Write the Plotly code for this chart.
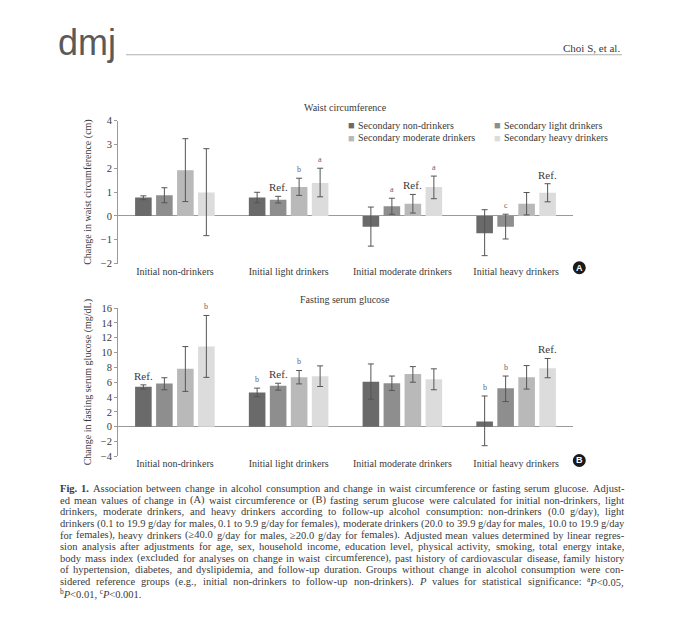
import re
import plotly.graph_objects as go

# page offset: the browser body adds an 8px margin around the figure
OFF = 8
W, H = 680 - OFF, 634 - OFF

categories = ["Initial non-drinkers", "Initial light drinkers",
              "Initial moderate drinkers", "Initial heavy drinkers"]
series_names = ["Secondary non-drinkers", "Secondary light drinkers",
                "Secondary moderate drinkers", "Secondary heavy drinkers"]
series_colors = ["#6a6a6a", "#8e8e8e", "#b9b9b9", "#dcdcdc"]

# (A) Waist circumference, cm
waist_non = [0.77, 0.77, -0.46, -0.73]
waist_light = [0.87, 0.68, 0.40, -0.46]
waist_moderate = [1.92, 1.21, 0.51, 0.51]
waist_heavy = [0.98, 1.38, 1.21, 0.97]
waist_upper_non = [0.84, 0.99, 0.37, 0.26]
waist_lower_non = [0.68, 0.55, -1.27, -1.67]
waist_upper_light = [1.18, 0.82, 0.74, 0.07]
waist_lower_light = [0.55, 0.54, 0.07, -0.97]
waist_upper_moderate = [3.24, 1.58, 0.90, 0.98]
waist_lower_moderate = [0.60, 0.86, 0.12, 0.04]
waist_upper_heavy = [2.82, 2.00, 1.67, 1.35]
waist_lower_heavy = [-0.83, 0.80, 0.72, 0.59]
waist_marks_non = ["", "", "", ""]
waist_marks_light = ["", "Ref.", "a", "c"]
waist_marks_moderate = ["", "b", "Ref.", ""]
waist_marks_heavy = ["", "a", "a", "Ref."]

# (B) Fasting serum glucose, mg/dL
glu_non = [5.37, 4.62, 6.05, 0.70]
glu_light = [5.82, 5.53, 5.86, 5.20]
glu_moderate = [7.80, 6.65, 7.10, 6.65]
glu_heavy = [10.80, 6.80, 6.40, 7.89]
glu_upper_non = [5.64, 5.20, 8.46, 4.14]
glu_lower_non = [5.07, 4.05, 3.70, -2.56]
glu_upper_light = [6.60, 5.86, 6.83, 6.83]
glu_lower_light = [4.98, 4.93, 4.89, 3.39]
glu_upper_moderate = [10.80, 7.58, 8.10, 8.24]
glu_lower_moderate = [4.76, 5.77, 6.00, 5.07]
glu_upper_heavy = [15.00, 8.20, 7.80, 9.20]
glu_lower_heavy = [6.65, 5.42, 4.98, 6.60]
glu_marks_non = ["Ref.", "b", "", "b"]
glu_marks_light = ["", "Ref.", "", "b"]
glu_marks_moderate = ["", "b", "", ""]
glu_marks_heavy = ["b", "", "", "Ref."]

waist_ticks = [-2, -1, 0, 1, 2, 3, 4]
glu_ticks = [-4, -2, 0, 2, 4, 6, 8, 10, 12, 14, 16]

caption_lines = [
    "<b>Fig.</b> <b>1.</b> Association between change in alcohol consumption and change in waist circumference or fasting serum glucose. Adjust-",
    "ed mean values of change in (A) waist circumference or (B) fasting serum glucose were calculated for initial non-drinkers, light",
    "drinkers, moderate drinkers, and heavy drinkers according to follow-up alcohol consumption: non-drinkers (0.0 g/day), light",
    "drinkers (0.1 to 19.9 g/day for males, 0.1 to 9.9 g/day for females), moderate drinkers (20.0 to 39.9 g/day for males, 10.0 to 19.9 g/day",
    "for females), heavy drinkers (\u226540.0 g/day for males, \u226520.0 g/day for females). Adjusted mean values determined by linear regres-",
    "sion analysis after adjustments for age, sex, household income, education level, physical activity, smoking, total energy intake,",
    "body mass index (excluded for analyses on change in waist circumference), past history of cardiovascular disease, family history",
    "of hypertension, diabetes, and dyslipidemia, and follow-up duration. Groups without change in alcohol consumption were con-",
    "sidered reference groups (e.g., initial non-drinkers to follow-up non-drinkers). <i>P</i> values for statistical significance: <sup>a</sup><i>P</i>&lt;0.05,",
    "<sup>b</sup><i>P</i>&lt;0.01, <sup>c</sup><i>P</i>&lt;0.001.",
]


def px(x):
    return (x - OFF) / W


def py(y):
    return 1 - (y - OFF) / H


SERIF = "Liberation Serif, Times New Roman, serif"
TXT = "#3a3a3a"

fig = go.Figure()

panels = [
    ("x", "y", [waist_non, waist_light, waist_moderate, waist_heavy],
     [waist_upper_non, waist_upper_light, waist_upper_moderate, waist_upper_heavy],
     [waist_lower_non, waist_lower_light, waist_lower_moderate, waist_lower_heavy],
     [waist_marks_non, waist_marks_light, waist_marks_moderate, waist_marks_heavy]),
    ("x2", "y2", [glu_non, glu_light, glu_moderate, glu_heavy],
     [glu_upper_non, glu_upper_light, glu_upper_moderate, glu_upper_heavy],
     [glu_lower_non, glu_lower_light, glu_lower_moderate, glu_lower_heavy],
     [glu_marks_non, glu_marks_light, glu_marks_moderate, glu_marks_heavy]),
]

annotations = []
slot = 21.0
for xa, ya, vals, ups, lows, marks in panels:
    for i in range(4):
        v = vals[i]
        up = [u - a for u, a in zip(ups[i], v)]
        dn = [a - l for a, l in zip(v, lows[i])]
        fig.add_trace(go.Bar(
            x=categories, y=v, name=series_names[i], xaxis=xa, yaxis=ya,
            marker=dict(color=series_colors[i], line=dict(width=0)),
            error_y=dict(type="data", symmetric=False, array=up, arrayminus=dn,
                         color="#555555", thickness=1, width=3),
            showlegend=False,
        ))
        for j, m in enumerate(marks[i]):
            if not m:
                continue
            is_ref = m == "Ref."
            annotations.append(dict(
                x=categories[j], y=ups[i][j], xref=xa, yref=ya,
                xshift=(i - 1.5) * slot, yshift=1 if is_ref else 2,
                text=m, showarrow=False, xanchor="center", yanchor="bottom",
                font=dict(family=SERIF, size=11 if is_ref else 8,
                          color=TXT if is_ref else "#666666"),
            ))

xdom = [px(118), px(573)]
axis_common_x = dict(domain=xdom, type="category", showline=False, ticks="",
                     showgrid=False, zeroline=False,
                     tickfont=dict(family=SERIF, size=10, color=TXT))
axis_common_y = dict(showline=True, linecolor="#9a9a9a", linewidth=1,
                     ticks="outside", ticklen=3, tickcolor="#9a9a9a",
                     showgrid=False, zeroline=True, zerolinecolor="#9a9a9a",
                     zerolinewidth=1,
                     tickfont=dict(family=SERIF, size=10.5, color=TXT))

fig.update_layout(
    width=W, height=H, margin=dict(l=0, r=0, t=0, b=0),
    paper_bgcolor="white", plot_bgcolor="white",
    barmode="group", bargap=0.262, bargroupgap=0.21,
    showlegend=False,
    xaxis=dict(anchor="y", **axis_common_x),
    xaxis2=dict(anchor="y2", **axis_common_x),
    yaxis=dict(anchor="x", domain=[py(263), py(117.5)], range=[-2, 4],
               tickvals=waist_ticks,
               title=dict(text="Change in waist circumference (cm)", standoff=7,
                          font=dict(family=SERIF, size=10, color=TXT)),
               **axis_common_y),
    yaxis2=dict(anchor="x2", domain=[py(459.3), py(308.3)], range=[-4, 16],
                tickvals=glu_ticks,
                title=dict(text="Change in fasting serum glucose (mg/dL)", standoff=7,
                           font=dict(family=SERIF, size=10, color=TXT)),
                **axis_common_y),
)


def note(x, y, text, size, color=TXT, family=SERIF, xanchor="center"):
    annotations.append(dict(x=px(x), y=py(y), xref="paper", yref="paper",
                            text=text, showarrow=False, xanchor=xanchor,
                            yanchor="middle",
                            font=dict(family=family, size=size, color=color)))


# panel titles
note(345, 104.3, "Waist circumference", 10)
note(345, 300, "Fasting serum glucose", 10)

# legend (panel A)
legend_pos = [(351, 122.3), (497.5, 122.3), (351, 135), (497.5, 135)]
for (lx, ly), name, col in zip(legend_pos, series_names, series_colors):
    note(lx, ly, "\u25A0", 11, color=col)
    note(lx + 4.5, ly, name, 10, xanchor="left")

# circled panel letters
shapes = []
for letter, cy in (("A", 267.3), ("B", 463.5)):
    shapes.append(dict(type="circle", xref="paper", yref="paper", layer="below",
                       x0=px(572.8), x1=px(585.8), y0=py(cy + 6.5), y1=py(cy - 6.5),
                       fillcolor="#1a1a1a", line=dict(width=0)))
    note(579.3, cy, "<b>%s</b>" % letter, 9, color="white",
         family="Liberation Sans, Arial, sans-serif")

# header
note(56, 38, "dmj", 36, color="#5a5a5a",
     family="Liberation Sans Narrow, Liberation Sans, sans-serif", xanchor="left")
shapes.append(dict(type="line", xref="paper", yref="paper",
                   x0=px(126), x1=px(622), y0=py(50.5), y1=py(50.5),
                   line=dict(color="#b0b0b0", width=1)))
note(622, 43.5, "Choi S, et al.", 11, xanchor="right")

# caption: justified by placing words with Times-compatible advance widths
CW = {" ": 250, "(": 333, ")": 333, ",": 250, "-": 333, ".": 250, "/": 278,
      ":": 278, ";": 278, "<": 564, "\u2265": 549}
for ch in "0123456789":
    CW[ch] = 500
for ch, w in zip("ABCDEFGHIJKLMNOPQRSTUVWXYZ",
                 [722, 667, 667, 722, 611, 556, 722, 722, 333, 389, 722, 611, 889,
                  722, 722, 556, 722, 667, 556, 611, 722, 722, 944, 722, 722, 611]):
    CW[ch] = w
for ch, w in zip("abcdefghijklmnopqrstuvwxyz",
                 [444, 500, 444, 500, 444, 333, 500, 500, 278, 278, 500, 278, 778,
                  500, 500, 500, 500, 333, 389, 278, 500, 500, 722, 500, 500, 444]):
    CW[ch] = w
BOLD_W = {"F": 611, "i": 278, "g": 500, ".": 250, "1": 500}
ITAL_W = {"P": 611}


def word_width(word, size):
    total = 0.0
    bold = ital = sup = False
    for tok in re.split(r"(<[^>]+>|&lt;)", word):
        if not tok:
            continue
        if tok == "&lt;":
            chars = "<"
        elif tok.startswith("<"):
            closing = tok.startswith("</")
            tag = tok.strip("</>").lower()
            if tag == "b":
                bold = not closing
            elif tag == "i":
                ital = not closing
            elif tag == "sup":
                sup = not closing
            continue
        else:
            chars = tok
        for ch in chars:
            table = BOLD_W if bold else (ITAL_W if ital else {})
            w = table.get(ch, CW.get(ch, 500))
            total += w * (0.7 if sup else 1.0)
    return total * size / 1000.0


CAP_SIZE = 10.5
CAP_LEFT, CAP_RIGHT = 58.0, 622.0
for k, line in enumerate(caption_lines):
    yk = 492.3 + k * 11.8
    if k == len(caption_lines) - 1:
        note(CAP_LEFT, yk, line, CAP_SIZE, xanchor="left")
        continue
    words = line.split(" ")
    widths = [word_width(wd, CAP_SIZE) for wd in words]
    gap = (CAP_RIGHT - CAP_LEFT - sum(widths)) / (len(words) - 1)
    gap = max(gap, 1.5)
    xpos = CAP_LEFT
    for wd, wdw in zip(words, widths):
        note(xpos, yk, wd, CAP_SIZE, xanchor="left")
        xpos += wdw + gap

fig.update_layout(annotations=annotations, shapes=shapes)
fig.write_html("out.html")
